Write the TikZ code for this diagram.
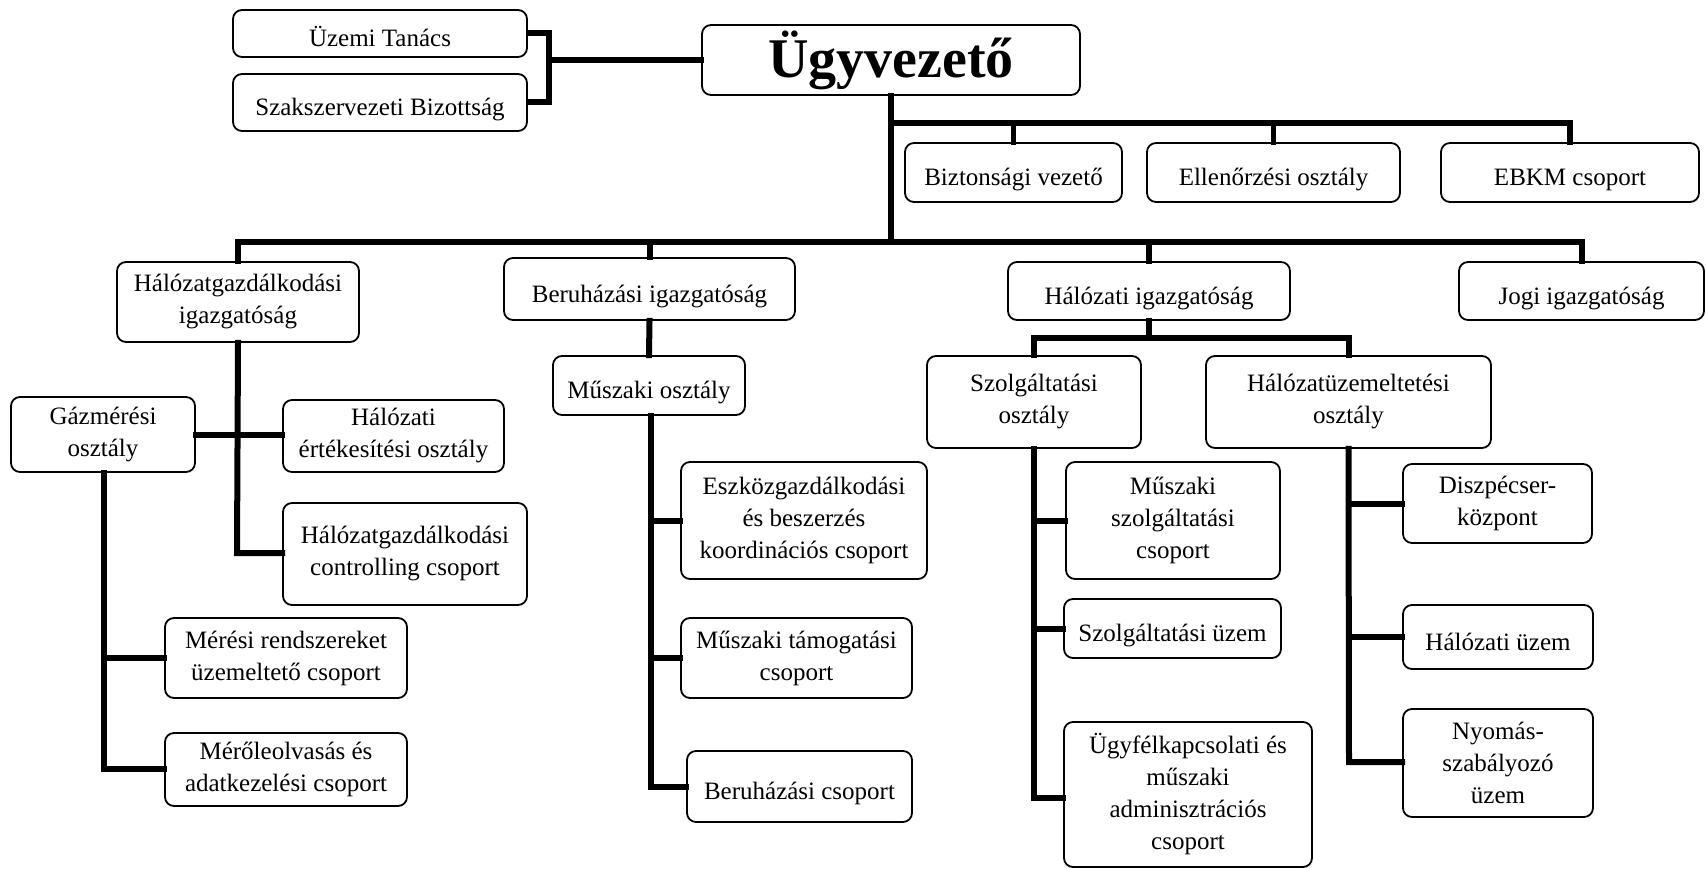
\documentclass[tikz,border=0pt]{standalone}
\usepackage{fontspec}
\setmainfont{Liberation Serif}
\begin{document}
\begin{tikzpicture}[x=1pt,y=-1pt,
  box/.style={draw,line width=1.8pt,rounded corners=9pt,fill=white,align=center,inner sep=2pt,
    font=\fontsize{25}{32}\selectfont},
  one/.style={text height=30pt,text depth=4pt},
  conn/.style={line width=6pt,line cap=rect}]
\useasboundingbox (0,0) rectangle (1706,869);
% nodes
\node[box,one,minimum width=294,minimum height=47] (uz) at (380,33.5) {Üzemi Tanács};
\node[box,one,minimum width=294,minimum height=57] (szb) at (380,102.5) {Szakszervezeti Bizottság};
\node[box,minimum width=378,minimum height=70,font=\fontsize{56}{60}\selectfont\bfseries] (ugy) at (891,60) {Ügyvezető};
\node[box,one,minimum width=217,minimum height=59] (bizt) at (1013.5,172.5) {Biztonsági vezető};
\node[box,one,minimum width=253,minimum height=59] (ell) at (1273.5,172.5) {Ellenőrzési osztály};
\node[box,one,minimum width=258,minimum height=59] (ebkm) at (1570,172.5) {EBKM csoport};
\node[box,minimum width=242,minimum height=80] (hgi) at (238,302) {Hálózatgazdálkodási\\igazgatóság};
\node[box,one,minimum width=291,minimum height=62] (ber) at (649.5,289) {Beruházási igazgatóság};
\node[box,one,minimum width=282,minimum height=58] (hi) at (1149,291) {Hálózati igazgatóság};
\node[box,one,minimum width=245,minimum height=58] (jogi) at (1581.5,291) {Jogi igazgatóság};
\node[box,minimum width=184,minimum height=75] (gaz) at (103,434.5) {Gázmérési\\osztály};
\node[box,minimum width=221,minimum height=72] (hert) at (393.5,436) {Hálózati\\értékesítési osztály};
\node[box,minimum width=244,minimum height=102] (hctrl) at (405,554) {Hálózatgazdálkodási\\controlling csoport};
\node[box,minimum width=242,minimum height=80] (meres) at (286,658) {Mérési rendszereket\\üzemeltető csoport};
\node[box,minimum width=242,minimum height=73] (merol) at (286,769.5) {Mérőleolvasás és\\adatkezelési csoport};
\node[box,one,minimum width=192,minimum height=59] (musz) at (649,385.5) {Műszaki osztály};
\node[box,minimum width=246,minimum height=117] (eszk) at (804,520.5) {Eszközgazdálkodási\\és beszerzés\\koordinációs csoport};
\node[box,minimum width=231,minimum height=80] (mtam) at (796.5,658) {Műszaki támogatási\\csoport};
\node[box,one,minimum width=225,minimum height=71] (bcs) at (799.5,786.5) {Beruházási csoport};
\node[box,minimum width=214,minimum height=92] (szo) at (1034,402) {Szolgáltatási\\osztály};
\node[box,minimum width=285,minimum height=92] (hu) at (1348.5,402) {Hálózatüzemeltetési\\osztály};
\node[box,minimum width=214,minimum height=117] (mszcs) at (1173,520.5) {Műszaki\\szolgáltatási\\csoport};
\node[box,one,minimum width=217,minimum height=59] (szu) at (1172.5,628.5) {Szolgáltatási üzem};
\node[box,minimum width=248,minimum height=145] (ugyf) at (1188,794.5) {Ügyfélkapcsolati és\\műszaki\\adminisztrációs\\csoport};
\node[box,minimum width=189,minimum height=79] (disz) at (1497.5,503.5) {Diszpécser-\\központ};
\node[box,one,minimum width=190,minimum height=64] (hu2) at (1498,637) {Hálózati üzem};
\node[box,minimum width=190,minimum height=108] (nyom) at (1498,763) {Nyomás-\\szabályozó\\üzem};
% junction coordinates
\coordinate (jA) at (549,60);
\coordinate (jB) at (891,123);
\coordinate (jC) at (891,242);
\coordinate (jD) at (1149,338);
\coordinate (jE) at (237,435);
\coordinate (jF) at (104,769);
\coordinate (jG) at (651,787);
\coordinate (jH) at (1034,798);
\coordinate (jI) at (1349,762);
\coordinate (jK) at (237,553);
% connectors
\draw[conn,line cap=butt] (uz.east) -| (jA) |- (szb.east);
\draw[conn] (jA) -- (ugy.west);
\draw[conn] (ugy.south) -- (jC);
\draw[conn] (jB) -| (ebkm.north);
\draw[conn,line width=5pt] (jB -| bizt.north) -- (bizt.north);
\draw[conn,line width=5pt] (jB -| ell.north) -- (ell.north);
\draw[conn] (jC -| hgi.north) -- (jC -| jogi.north) -- (jogi.north);
\draw[conn] (jC -| hgi.north) -- (hgi.north);
\draw[conn] (jC -| ber.north) -- (ber.north);
\draw[conn] (jC -| hi.north) -- (hi.north);
% Halozatgazdalkodasi
\draw[conn] (hgi.south) -- (jK) -- (hctrl.west |- jK);
\draw[conn] (gaz.east |- jE) -- (hert.west |- jE);
\draw[conn] (gaz.south -| jF) -- (jF) -- (merol.west |- jF);
\draw[conn] (jF |- meres.west) -- (meres.west);
% Beruhazasi
\draw[conn] (ber.south) -- (musz.north);
\draw[conn] (musz.south -| jG) -- (jG) -- (bcs.west |- jG);
\draw[conn] (jG |- eszk.west) -- (eszk.west);
\draw[conn] (jG |- mtam.west) -- (mtam.west);
% Halozati
\draw[conn] (hi.south) -- (jD);
\draw[conn] (jD -| szo.north) -- (jD -| hu.north);
\draw[conn] (jD -| szo.north) -- (szo.north);
\draw[conn] (jD -| hu.north) -- (hu.north);
\draw[conn] (szo.south) -- (jH) -- (ugyf.west |- jH);
\draw[conn] (jH |- mszcs.west) -- (mszcs.west);
\draw[conn] (jH |- szu.west) -- (szu.west);
\draw[conn] (hu.south) -- (jI) -- (nyom.west |- jI);
\draw[conn] (jI |- disz.west) -- (disz.west);
\draw[conn] (jI |- hu2.west) -- (hu2.west);
\end{tikzpicture}
\end{document}
